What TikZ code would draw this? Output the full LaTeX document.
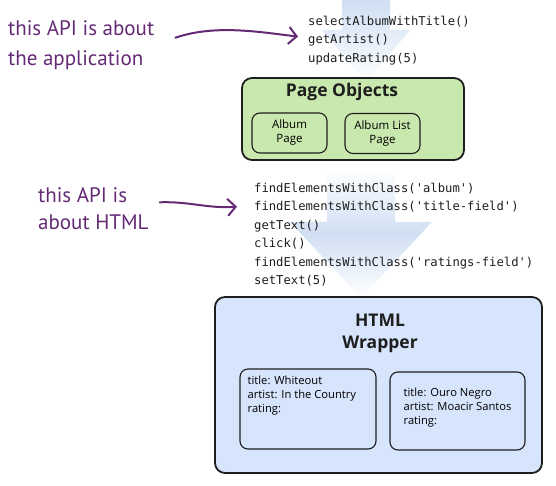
\documentclass[tikz,border=0pt]{standalone}
\usepackage{fontspec}
\setmainfont{Open Sans}
\setmonofont{DejaVu Sans Mono}
\newfontfamily\handfont{PT Sans}
\usetikzlibrary{arrows.meta}
\definecolor{pagegreen}{RGB}{200,232,174}
\definecolor{wrapblue}{RGB}{214,228,252}
\definecolor{flowblue}{RGB}{208,223,243}
\definecolor{notepurple}{RGB}{100,42,116}
\definecolor{edge}{RGB}{30,30,30}
\tikzset{
  layer/.style={
    rectangle,
    rounded corners=10pt,
    draw=edge,
    line width=1.8pt,
    inner sep=0pt
  },
  pagebox/.style={
    rectangle,
    rounded corners=8pt,
    draw=edge,
    line width=1.1pt,
    align=center,
    minimum width=75pt,
    minimum height=40pt,
    inner sep=0pt,
    font=\fontsize{11.5}{14}\selectfont
  },
  record/.style={
    rectangle,
    rounded corners=8pt,
    draw=edge,
    line width=1.1pt,
    minimum width=136pt,
    minimum height=80pt
  },
  recordtext/.style={anchor=north west, align=left, inner sep=0pt, font=\fontsize{11.2}{14.3}\selectfont},
  title/.style={font=\bfseries\fontsize{17.5}{22}\selectfont, align=center, text=edge},
  code/.style={anchor=north west, align=left, inner sep=0pt, text=edge, font=\ttfamily\fontsize{12.2}{18.4}\selectfont},
  hint/.style={anchor=north west, align=left, inner sep=0pt, text=notepurple, font=\handfont\fontsize{21}{30}\selectfont},
  hintarrow/.style={-{Straight Barb[length=8pt,width=17pt]}, draw=notepurple, line width=2pt, line cap=round},
  flow/.style={top color=flowblue, bottom color=white, draw=none}
}

\begin{document}
\begin{tikzpicture}[x=1pt,y=1pt]
\useasboundingbox (0,0) rectangle (556,485);

% faint flow arrows behind the code
\shade[flow] (342,485) -- (390,485) -- (390,455) -- (410,455) -- (366,402) -- (322,455) -- (342,455) -- cycle;
\shade[flow, top color=white, middle color=flowblue] (327,317) -- (395,317) -- (395,263) -- (432,263) -- (361,187) -- (290,263) -- (327,263) -- cycle;

\node[layer, fill=pagegreen, minimum width=222pt, minimum height=82pt] (pageobjects) at (353,366) {};
\node[title] (pagetitle) at (342,393) {Page Objects};
\node[pagebox] (albumpage) at (289.5,352) {Album\\Page};
\node[pagebox] (albumlist) at (382.5,351.5) {Album List\\Page};

\node[layer, fill=wrapblue, minimum width=327pt, minimum height=176pt] (wrapper) at (378.5,100) {};
\node[title] (wraptitle) at (380,152) {HTML\\Wrapper};
\node[record] (whiteout) at (308,76) {};
\node[recordtext] (whiteouttext) at ([shift={(8,-7)}]whiteout.north west) {title: Whiteout\\artist: In the Country\\rating:};
\node[record, minimum width=135pt, minimum height=78pt] (ouronegro) at (457.5,74) {};
\node[recordtext] (ouronegrotext) at ([shift={(14,-16)}]ouronegro.north west) {title: Ouro Negro\\artist: Moacir Santos\\rating:};

\node[code] (appcode) at (308,469) {selectAlbumWithTitle()\\getArtist()\\updateRating(5)};
\node[code] (htmlcode) at (254,302) {findElementsWithClass('album')\\findElementsWithClass('title-field')\\getText()\\click()\\findElementsWithClass('ratings-field')\\setText(5)};

\node[hint] (apphint) at (8,465) {this API is about\\the application};
\node[hint, font=\handfont\fontsize{21}{27}\selectfont] (htmlhint) at (38,298) {this API is\\about HTML};

\draw[hintarrow] ([shift={(21,7)}]apphint.east) .. controls +(40,14) and +(-35,4) .. ([shift={(-10,4)}]appcode.west);
\draw[hintarrow] ([shift={(11,6)}]htmlhint.east) .. controls +(30,1) and +(-30,-2) .. ([shift={(-17,28)}]htmlcode.west);
\end{tikzpicture}
\end{document}
